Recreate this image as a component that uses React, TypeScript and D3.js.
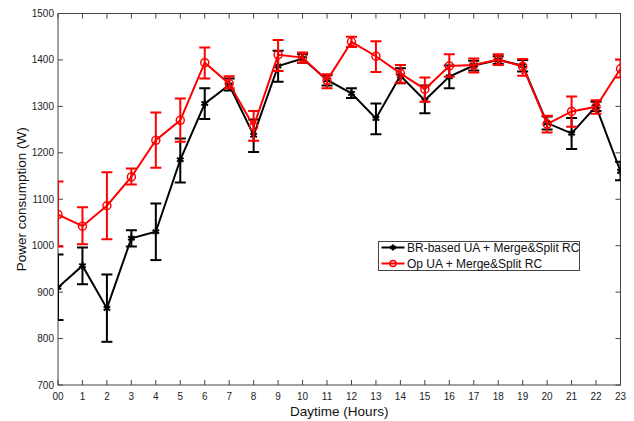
import React, { useEffect, useRef } from 'react';
import * as d3 from 'd3';

const hours = ['00', '1', '2', '3', '4', '5', '6', '7', '8', '9', '10', '11', '12', '13', '14', '15', '16', '17', '18', '19', '20', '21', '22', '23'];

// BR-based UA + Merge&Split RC
const brMean = [910, 957, 865, 1016, 1030, 1185, 1306, 1346, 1238, 1387, 1403, 1357, 1328, 1274, 1366, 1313, 1364, 1388, 1400, 1388, 1264, 1242, 1300, 1160];
const brLow = [840, 917, 793, 998, 969, 1136, 1273, 1334, 1202, 1353, 1394, 1345, 1318, 1240, 1350, 1285, 1339, 1377, 1391, 1375, 1250, 1208, 1290, 1141];
const brHigh = [981, 996, 938, 1033, 1091, 1231, 1339, 1360, 1272, 1420, 1412, 1367, 1339, 1306, 1382, 1345, 1388, 1398, 1408, 1400, 1278, 1275, 1310, 1181];

// Op UA + Merge&Split RC
const opMean = [1067, 1042, 1086, 1148, 1227, 1270, 1394, 1349, 1257, 1411, 1405, 1356, 1439, 1408, 1371, 1337, 1387, 1389, 1401, 1386, 1262, 1289, 1299, 1381];
const opLow = [998, 1003, 1014, 1132, 1168, 1224, 1360, 1339, 1226, 1376, 1394, 1339, 1428, 1374, 1351, 1310, 1364, 1373, 1389, 1366, 1244, 1256, 1284, 1362];
const opHigh = [1138, 1083, 1158, 1166, 1287, 1317, 1427, 1365, 1290, 1443, 1416, 1369, 1450, 1440, 1389, 1362, 1412, 1403, 1412, 1402, 1280, 1321, 1313, 1401];

const yTicks = [700, 800, 900, 1000, 1100, 1200, 1300, 1400, 1500];

const W = 634;
const H = 421;

const App: React.FC = () => {
  const svgRef = useRef<SVGSVGElement>(null);

  useEffect(() => {
    const margin = { top: 13.5, right: 13.5, bottom: 36, left: 58 };
    const iw = W - margin.left - margin.right;
    const ih = H - margin.top - margin.bottom;

    const root = d3.select(svgRef.current);
    root.selectAll('*').remove();

    const g = root.append('g').attr('transform', `translate(${margin.left},${margin.top})`);

    const x = d3.scaleLinear().domain([0, 23]).range([0, iw]);
    const y = d3.scaleLinear().domain([700, 1500]).range([ih, 0]);

    root.append('defs').append('clipPath').attr('id', 'plotclip')
      .append('rect').attr('x', 0).attr('y', 0).attr('width', iw).attr('height', ih);

    // axes box with inward ticks
    const axisColor = '#444';
    const tickLen = 5;
    g.append('rect').attr('x', 0).attr('y', 0).attr('width', iw).attr('height', ih)
      .attr('fill', 'none').attr('stroke', axisColor).attr('stroke-width', 1);

    hours.forEach((h, i) => {
      const px = x(i);
      g.append('line').attr('x1', px).attr('x2', px).attr('y1', ih).attr('y2', ih - tickLen).attr('stroke', axisColor);
      g.append('line').attr('x1', px).attr('x2', px).attr('y1', 0).attr('y2', tickLen).attr('stroke', axisColor);
      g.append('text').attr('x', px).attr('y', ih + 15).attr('text-anchor', 'middle')
        .attr('font-family', 'Liberation Sans, Arial, sans-serif').attr('font-size', 10).attr('fill', '#222').text(h);
    });
    yTicks.forEach((v) => {
      const py = y(v);
      g.append('line').attr('x1', 0).attr('x2', tickLen).attr('y1', py).attr('y2', py).attr('stroke', axisColor);
      g.append('line').attr('x1', iw).attr('x2', iw - tickLen).attr('y1', py).attr('y2', py).attr('stroke', axisColor);
      g.append('text').attr('x', -4).attr('y', py + 3.5).attr('text-anchor', 'end')
        .attr('font-family', 'Liberation Sans, Arial, sans-serif').attr('font-size', 10).attr('fill', '#222').text(v);
    });

    g.append('text').attr('x', iw / 2).attr('y', ih + 31).attr('text-anchor', 'middle')
      .attr('font-family', 'Liberation Sans, Arial, sans-serif').attr('font-size', 13.5).attr('fill', '#111')
      .text('Daytime (Hours)');
    g.append('text').attr('transform', `translate(${-32},${ih / 2}) rotate(-90)`).attr('text-anchor', 'middle')
      .attr('font-family', 'Liberation Sans, Arial, sans-serif').attr('font-size', 13.5).attr('fill', '#111')
      .text('Power consumption (W)');

    const plot = g.append('g').attr('clip-path', 'url(#plotclip)');
    const capW = 5.5;

    const series = [
      { mean: brMean, low: brLow, high: brHigh, color: '#000', marker: 'star' },
      { mean: opMean, low: opLow, high: opHigh, color: '#f00', marker: 'circle' },
    ];

    const line = d3.line<number>().x((_, i) => x(i)).y((d) => y(d));

    series.forEach((s) => {
      const sg = plot.append('g');
      s.mean.forEach((_, i) => {
        const px = x(i);
        sg.append('line').attr('x1', px).attr('x2', px).attr('y1', y(s.low[i])).attr('y2', y(s.high[i]))
          .attr('stroke', s.color).attr('stroke-width', 2);
        [s.low[i], s.high[i]].forEach((v) => {
          sg.append('line').attr('x1', px - capW).attr('x2', px + capW).attr('y1', y(v)).attr('y2', y(v))
            .attr('stroke', s.color).attr('stroke-width', 2);
        });
      });
      sg.append('path').datum(s.mean).attr('d', line).attr('fill', 'none')
        .attr('stroke', s.color).attr('stroke-width', 2);
      s.mean.forEach((v, i) => {
        if (s.marker === 'circle') {
          sg.append('circle').attr('cx', x(i)).attr('cy', y(v)).attr('r', 4)
            .attr('fill', 'none').attr('stroke', s.color).attr('stroke-width', 1.5);
        } else {
          sg.append('path').attr('transform', `translate(${x(i)},${y(v)})`)
            .attr('d', d3.symbol(d3.symbolAsterisk, 40)())
            .attr('fill', 'none').attr('stroke', s.color).attr('stroke-width', 2);
        }
      });
    });

    // legend
    const lg = root.append('g').attr('transform', 'translate(378.5,241.5)');
    lg.append('rect').attr('width', 201).attr('height', 29).attr('fill', '#fff').attr('stroke', axisColor);
    series.forEach((s, i) => {
      const ly = 6 + i * 16;
      lg.append('line').attr('x1', 3).attr('x2', 26).attr('y1', ly).attr('y2', ly)
        .attr('stroke', s.color).attr('stroke-width', 2);
      if (s.marker === 'circle') {
        lg.append('circle').attr('cx', 14.5).attr('cy', ly).attr('r', 3)
          .attr('fill', 'none').attr('stroke', s.color).attr('stroke-width', 1.5);
      } else {
        lg.append('path').attr('transform', `translate(14.5,${ly})`)
          .attr('d', d3.symbol(d3.symbolAsterisk, 25)())
          .attr('fill', 'none').attr('stroke', s.color).attr('stroke-width', 2);
      }
      lg.append('text').attr('x', 28.5).attr('y', ly + 4)
        .attr('font-family', 'Liberation Sans, Arial, sans-serif').attr('font-size', 12).attr('fill', '#111')
        .text(i === 0 ? 'BR-based UA + Merge&Split RC' : 'Op UA + Merge&Split RC');
    });
  }, []);

  return (
    <svg ref={svgRef} width={W} height={H} style={{ position: 'absolute', left: 0, top: 0, background: '#fff' }} />
  );
};

export default App;
